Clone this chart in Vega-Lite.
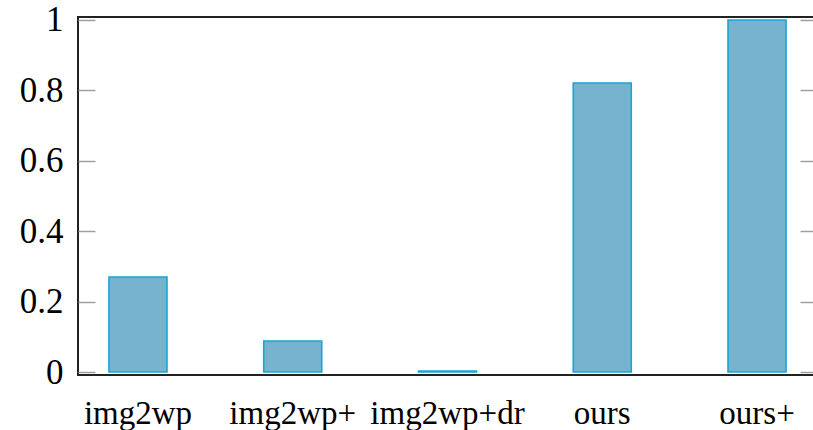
{
  "$schema": "https://vega.github.io/schema/vega-lite/v6.json",
  "autosize": "none",
  "padding": {"left": 78, "top": 17, "right": 0, "bottom": 55},
  "width": 739,
  "height": 358,
  "background": "white",
  "config": {
    "view": {"stroke": "#222222", "strokeWidth": 2},
    "font": "Liberation Serif"
  },
  "data": {
    "values": [
      {"method": "img2wp", "value": 0.27},
      {"method": "img2wp+", "value": 0.088},
      {"method": "img2wp+dr", "value": 0.003},
      {"method": "ours", "value": 0.821},
      {"method": "ours+", "value": 1.0}
    ]
  },
  "encoding": {
    "x": {
      "field": "method",
      "type": "nominal",
      "sort": null,
      "scale": {"paddingInner": 0.625, "paddingOuter": 0.2},
      "axis": {
        "title": null,
        "labelAngle": 0,
        "ticks": false,
        "domain": false,
        "labelPadding": 22,
        "labelFontSize": 33,
        "labelColor": "black",
        "labelFont": "Liberation Serif"
      }
    }
  },
  "layer": [
    {
      "mark": {"type": "bar", "fill": "#77b3cf", "stroke": "#17a6d6", "strokeWidth": 1.6},
      "encoding": {
        "y": {
          "field": "value",
          "type": "quantitative",
          "scale": {"domain": [-0.0085, 1.0085], "nice": false, "zero": false},
          "axis": {
            "orient": "left",
            "title": null,
            "values": [0, 0.2, 0.4, 0.6, 0.8, 1],
            "format": "~g",
            "grid": false,
            "domain": false,
            "tickSize": -17,
            "tickColor": "#a0a0a0",
            "tickWidth": 1.5,
            "labelPadding": 32,
            "labelFontSize": 35,
            "labelColor": "black",
            "labelFont": "Liberation Serif"
          }
        }
      }
    },
    {
      "mark": {"type": "bar", "opacity": 0},
      "encoding": {
        "y": {
          "field": "value",
          "type": "quantitative",
          "axis": {
            "orient": "right",
            "title": null,
            "values": [0, 0.2, 0.4, 0.6, 0.8, 1],
            "labels": false,
            "grid": false,
            "domain": false,
            "tickSize": -17,
            "tickColor": "#a0a0a0",
            "tickWidth": 1.5
          }
        }
      }
    }
  ],
  "resolve": {"axis": {"y": "independent"}}
}
